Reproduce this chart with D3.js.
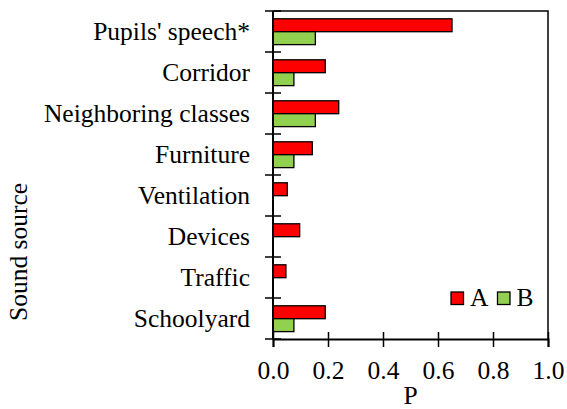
<!DOCTYPE html>
<html>
<head>
<meta charset="utf-8">
<script src="https://cdn.jsdelivr.net/npm/d3@7"></script>
<style>
    body { margin: 0; background: #fff; }
    svg { display: block; }
</style>
</head>
<body>
<svg id="chart"></svg>
<script>
// data
const categories = ["Pupils' speech*", 'Corridor', 'Neighboring classes', 'Furniture', 'Ventilation', 'Devices', 'Traffic', 'Schoolyard'];
const seriesNames = ['A', 'B'];
const valuesA = [0.651, 0.19, 0.239, 0.143, 0.052, 0.097, 0.047, 0.19];
const valuesB = [0.154, 0.076, 0.154, 0.076, 0, 0, 0, 0.076];
const xTicks = [0, 0.2, 0.4, 0.6, 0.8, 1.0];

(function() {

    const w = 567;
    const h = 409;
    const margin = { top: 11, right: 19, bottom: 70, left: 273 };
    const innerW = w - margin.left - margin.right;
    const innerH = h - margin.top - margin.bottom;
    const font = '"Liberation Serif"';
    const fontSize = '25.5px';
    const colors = { A: '#ff0000', B: '#92d050' };

    const rows = categories.map((c, i) => ({ category: c, A: valuesA[i], B: valuesB[i] }));

    // Scales
    const scaleX = d3.scaleLinear().domain([0, 1]).range([0, innerW]);
    const scaleY = d3.scaleBand().domain(categories).range([0, innerH]).padding(0);
    const scaleSeries = d3.scaleBand().domain(seriesNames)
        .range([scaleY.bandwidth() * 0.19, scaleY.bandwidth() * 0.82]);

    const svg = d3.select('#chart').attr('width', w).attr('height', h);
    const g = svg.append('g').attr('transform', `translate(${margin.left}, ${margin.top})`);

    // Frame (top and right)
    g.append('path')
        .attr('d', `M0,0H${innerW}V${innerH}`)
        .attr('fill', 'none')
        .attr('stroke', '#000')
        .attr('stroke-width', 1.5);

    // Bars
    const groups = g.selectAll('.row')
        .data(rows)
        .enter().append('g')
        .attr('class', 'row')
        .attr('transform', d => `translate(0, ${scaleY(d.category)})`);

    groups.selectAll('rect')
        .data(d => seriesNames.map(s => ({ key: s, value: d[s] })).filter(d => d.value > 0))
        .enter().append('rect')
        .attr('x', 0)
        .attr('y', d => scaleSeries(d.key))
        .attr('width', d => scaleX(d.value))
        .attr('height', scaleSeries.bandwidth())
        .attr('fill', d => colors[d.key])
        .attr('stroke', '#000')
        .attr('stroke-width', 1.3);

    // X axis
    const xAxis = d3.axisBottom(scaleX)
        .tickValues(xTicks)
        .tickSize(8)
        .tickFormat(d3.format('.1f'));

    const gx = g.append('g')
        .attr('transform', `translate(0, ${innerH})`)
        .attr('font-family', null)
        .call(xAxis);
    gx.select('.domain').attr('stroke-width', 2);
    gx.selectAll('.tick line').attr('y1', -7).attr('stroke-width', 1.5);
    gx.selectAll('.tick text')
        .attr('y', 40)
        .attr('dy', null)
        .style('font-size', fontSize)
        .style('font-family', font);

    // Y axis (labels centred in bands, ticks on band edges)
    const yAxis = d3.axisLeft(scaleY).tickSize(0).tickPadding(23);
    const gy = g.append('g').call(yAxis);
    gy.select('.domain').remove();
    gy.selectAll('.tick text')
        .style('font-size', fontSize)
        .style('font-family', font);

    const edges = categories.map(c => scaleY(c)).concat([scaleY.range()[1]]);
    g.append('g').selectAll('line')
        .data(edges)
        .enter().append('line')
        .attr('x1', -8)
        .attr('x2', 8)
        .attr('y1', d => d)
        .attr('y2', d => d)
        .attr('stroke', '#000')
        .attr('stroke-width', 1.5);

    g.append('line')
        .attr('x1', 0).attr('x2', 0)
        .attr('y1', 0).attr('y2', innerH)
        .attr('stroke', '#000')
        .attr('stroke-width', 2);

    // Axis titles
    svg.append('text')
        .attr('x', margin.left + innerW / 2)
        .attr('y', 404)
        .attr('text-anchor', 'middle')
        .style('font-family', font)
        .style('font-size', fontSize)
        .text('P');

    svg.append('text')
        .attr('transform', 'translate(26.5, 252) rotate(-90)')
        .attr('text-anchor', 'middle')
        .style('font-family', font)
        .style('font-size', fontSize)
        .text('Sound source');

    // Legend
    const legend = svg.append('g').attr('transform', 'translate(451, 292)');
    const legendX = { A: 0, B: 46.5 };
    seriesNames.forEach(s => {
        legend.append('rect')
            .attr('x', legendX[s])
            .attr('y', 0)
            .attr('width', 12.5)
            .attr('height', 12.5)
            .attr('fill', colors[s])
            .attr('stroke', '#000')
            .attr('stroke-width', 1.3);
        legend.append('text')
            .attr('x', legendX[s] + 19)
            .attr('y', 13.5)
            .style('font-family', font)
            .style('font-size', fontSize)
            .text(s);
    });

})();
</script>
</body>
</html>
